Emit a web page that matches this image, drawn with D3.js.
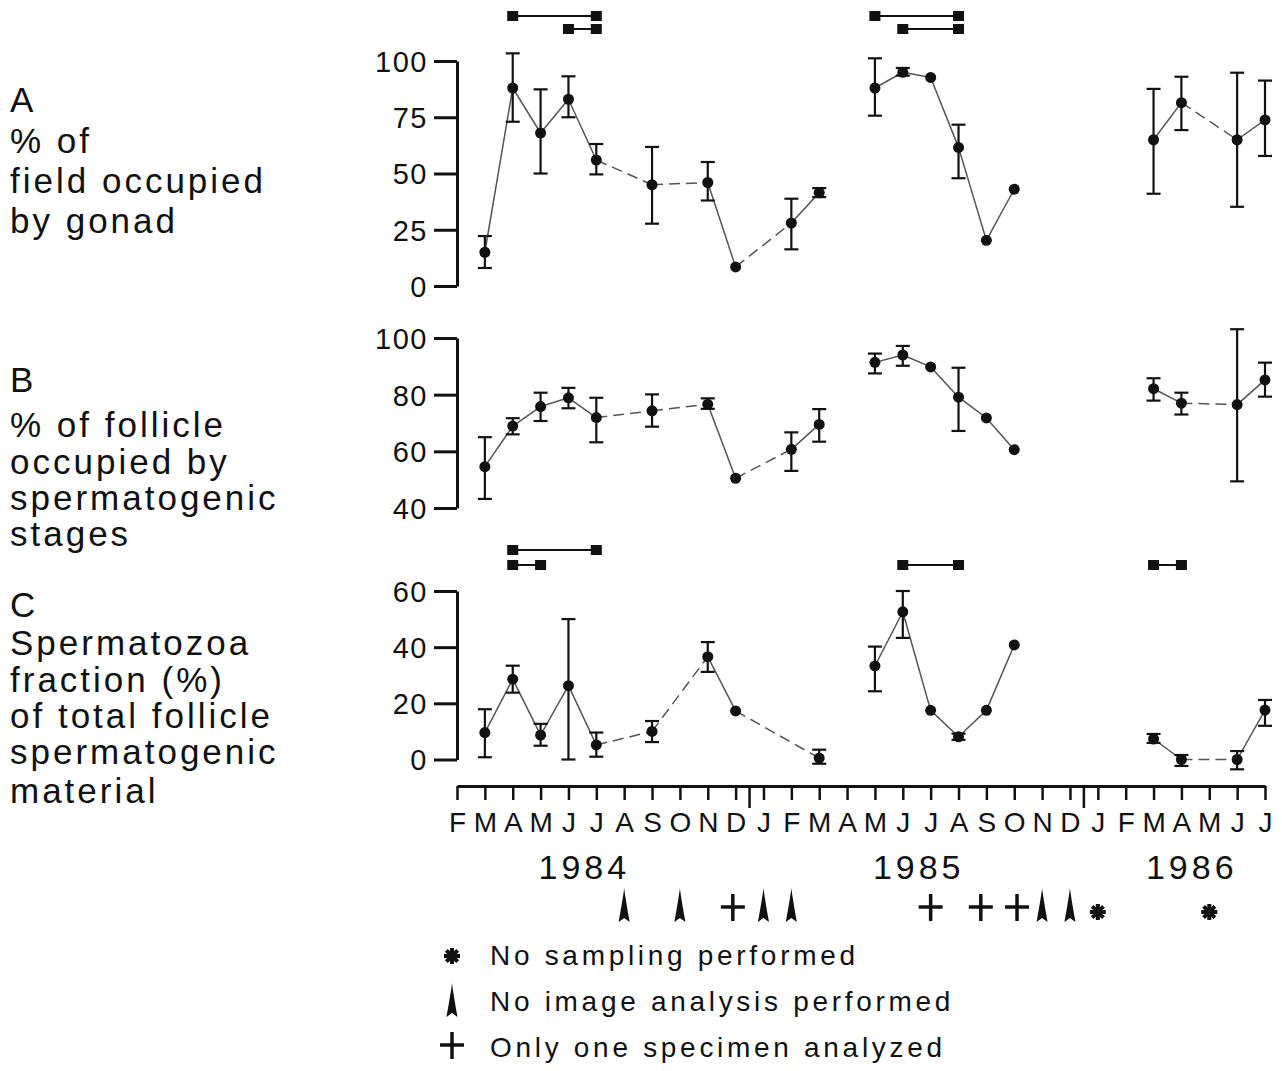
<!DOCTYPE html>
<html>
<head>
<meta charset="utf-8">
<script src="https://cdn.jsdelivr.net/npm/d3@7"></script>
<style>
  body { margin: 0; background: #fff; }
  text { font-family: "Liberation Sans", Arial, Helvetica, sans-serif; fill: #111; }
</style>
</head>
<body>
<div id="chart"></div>
<script>
// month axis, index 0 = Feb 1984
const monthLabels = ['F','M','A','M','J','J','A','S','O','N','D','J','F','M','A','M','J','J','A','S','O','N','D','J','F','M','A','M','J','J'];
const yearLabels = ['1984', '1985', '1986'];

// panel A + B share the sampled months
const abMonths = [1, 2, 3, 4, 5, 7, 9, 10, 12, 13, 15, 16, 17, 18, 19, 20, 25, 26, 28, 29];
// s = solid, d = dashed, '' = no line
const abLinks = ['s','s','s','s','d','d','s','d','s','', 's','s','s','s','s','', 's','d','s'];

const gonadMean = [15, 88, 68, 83, 56, 45, 46, 8.5, 28, 41.5, 88, 95, 92.7, 61.6, 20.3, 43, 65, 81.5, 65, 73.8];
const gonadLow  = [8, 73, 50, 75, 49.6, 27.7, 38, null, 16.3, 39.5, 75.7, 93.5, null, 47.9, null, null, 41, 69.3, 35.2, 57.8];
const gonadHigh = [22.2, 103.4, 87.4, 93.2, 63.1, 61.8, 55.1, null, 38.8, 43.5, 101.2, 96.9, null, 71.7, null, null, 87.6, 93, 94.8, 91.3];
const gonadTicks = [0, 25, 50, 75, 100];
const gonadSig = [{ from: 2, to: 5, row: 0 }, { from: 4, to: 5, row: 1 }, { from: 15, to: 18, row: 0 }, { from: 16, to: 18, row: 1 }];

const follMean = [54.6, 68.9, 75.8, 78.9, 71.9, 74.3, 76.6, 50.5, 60.7, 69.5, 91.4, 94, 89.8, 79.1, 71.8, 60.6, 82.1, 77, 76.5, 85.2];
const follLow  = [43.2, 66, 70.7, 75.2, 63.2, 68.7, 75, null, 53.1, 63.4, 87.5, 90.2, null, 67.2, null, null, 77.9, 73, 49.4, 79.3];
const follHigh = [65, 71.7, 80.7, 82.4, 78.9, 80.1, 78.7, null, 66.7, 74.9, 94.5, 97.2, null, 89.5, null, null, 85.8, 80.7, 103.1, 91.3];
const follTicks = [40, 60, 80, 100];

const spzMonths = [1, 2, 3, 4, 5, 7, 9, 10, 13, 15, 16, 17, 18, 19, 20, 25, 26, 28, 29];
const spzLinks = ['s','s','s','s','d','d','s','d','', 's','s','s','s','s','', 's','d','s'];
const spzMean = [9.6, 28.6, 8.7, 26.3, 5.2, 10, 36.6, 17.3, 0.5, 33.3, 52.6, 17.5, 8.1, 17.5, 40.8, 7.3, 0, 0, 17.6];
const spzLow  = [0.8, 23.8, 4.9, 0, 1, 6.2, 31.2, null, -1.5, 24.3, 43.3, null, 7, null, null, 5.9, -2.3, -3.5, 12];
const spzHigh = [17.9, 33.4, 12.7, 50, 9.6, 13.7, 41.8, null, 3.5, 40.2, 60, null, 9.2, null, null, 9.1, 1.6, 3, 21.2];
const spzTicks = [0, 20, 40, 60];
const spzSig = [{ from: 2, to: 5, row: 0 }, { from: 2, to: 3, row: 1 }, { from: 16, to: 18, row: 1 }, { from: 25, to: 26, row: 1 }];

// notes under the month axis
const noImageMonths = [6, 8, 11, 12, 21, 22];
const oneSpecimenMonths = [9.9, 17, 18.8, 20.1];
const noSamplingMonths = [23, 27];

const legendItems = ['No sampling performed', 'No image analysis performed', 'Only one specimen analyzed'];

const titleA = ['A', '% of', 'field occupied', 'by gonad'];
const titleB = ['B', '% of follicle', 'occupied by', 'spermatogenic', 'stages'];
const titleC = ['C', 'Spermatozoa', 'fraction (%)', 'of total follicle', 'spermatogenic', 'material'];

document.addEventListener('DOMContentLoaded', function() {
    const width = 1282, height = 1071;
    const svg = d3.select('#chart').append('svg')
        .attr('width', width)
        .attr('height', height);

    const x = d3.scaleLinear().domain([0, monthLabels.length - 1]).range([457, 1265]);
    const axisX = 457;

    const panels = [
        { months: abMonths, mean: gonadMean, lo: gonadLow, hi: gonadHigh, links: abLinks, ticks: gonadTicks,
          y: d3.scaleLinear().domain([0, 100]).range([286, 61]), sig: gonadSig, sigY: [16, 29] },
        { months: abMonths, mean: follMean, lo: follLow, hi: follHigh, links: abLinks, ticks: follTicks,
          y: d3.scaleLinear().domain([40, 100]).range([508, 338]), sig: [], sigY: [] },
        { months: spzMonths, mean: spzMean, lo: spzLow, hi: spzHigh, links: spzLinks, ticks: spzTicks,
          y: d3.scaleLinear().domain([0, 60]).range([759.5, 591]), sig: spzSig, sigY: [550, 565] }
    ];

    panels.forEach(p => {
        const y = p.y;

        // y axis, bracket style
        const ax = svg.append('g')
            .attr('transform', `translate(${axisX},0)`)
            .call(d3.axisLeft(y).tickValues(p.ticks).tickSize(23).tickSizeOuter(0).tickPadding(6))
            .attr('font-family', null).attr('font-size', null);
        ax.select('.domain').attr('stroke', '#111').attr('stroke-width', 3);
        ax.selectAll('.tick line').attr('stroke', '#111').attr('stroke-width', 3);
        ax.selectAll('.tick text')
            .style('font-size', '29px')
            .style('letter-spacing', '1.5px')
            .attr('dy', '0.36em');

        const pts = p.months.map((m, i) => ({ m: m, v: p.mean[i], lo: p.lo[i], hi: p.hi[i] }));

        // connecting lines
        const segs = [];
        for (let i = 0; i < pts.length - 1; i++) {
            if (p.links[i]) segs.push({ a: pts[i], b: pts[i + 1], style: p.links[i] });
        }
        svg.append('g')
            .selectAll('line')
            .data(segs)
            .enter().append('line')
            .attr('x1', d => x(d.a.m))
            .attr('y1', d => y(d.a.v))
            .attr('x2', d => x(d.b.m))
            .attr('y2', d => y(d.b.v))
            .attr('stroke', '#555')
            .attr('stroke-width', 1.5)
            .attr('stroke-dasharray', d => d.style === 'd' ? '11,6' : null);

        // error bars
        const eb = svg.append('g')
            .selectAll('g')
            .data(pts.filter(d => d.lo !== null))
            .enter().append('g')
            .attr('stroke', '#111')
            .attr('stroke-width', 2.2);
        eb.append('line')
            .attr('x1', d => x(d.m)).attr('x2', d => x(d.m))
            .attr('y1', d => y(d.lo)).attr('y2', d => y(d.hi));
        eb.append('line')
            .attr('x1', d => x(d.m) - 7).attr('x2', d => x(d.m) + 7)
            .attr('y1', d => y(d.lo)).attr('y2', d => y(d.lo));
        eb.append('line')
            .attr('x1', d => x(d.m) - 7).attr('x2', d => x(d.m) + 7)
            .attr('y1', d => y(d.hi)).attr('y2', d => y(d.hi));

        // means
        svg.append('g')
            .selectAll('circle')
            .data(pts)
            .enter().append('circle')
            .attr('cx', d => x(d.m))
            .attr('cy', d => y(d.v))
            .attr('r', 5.5)
            .attr('fill', '#111');

        // significance brackets
        const sg = svg.append('g')
            .selectAll('g')
            .data(p.sig)
            .enter().append('g');
        sg.append('line')
            .attr('x1', d => x(d.from)).attr('x2', d => x(d.to))
            .attr('y1', d => p.sigY[d.row]).attr('y2', d => p.sigY[d.row])
            .attr('stroke', '#111').attr('stroke-width', 2);
        sg.selectAll('rect')
            .data(d => [d.from, d.to].map(m => ({ m: m, row: d.row })))
            .enter().append('rect')
            .attr('x', d => x(d.m) - 5.5)
            .attr('y', d => p.sigY[d.row] - 5)
            .attr('width', 11)
            .attr('height', 10)
            .attr('fill', '#111');
    });

    // month axis
    const xa = svg.append('g')
        .attr('transform', 'translate(0,786)')
        .call(d3.axisBottom(x).tickValues(d3.range(monthLabels.length)).tickSize(14).tickSizeOuter(0).tickPadding(12)
            .tickFormat(i => monthLabels[i]))
        .attr('font-family', null).attr('font-size', null);
    xa.select('.domain').attr('stroke', '#111').attr('stroke-width', 3);
    xa.selectAll('.tick line').attr('stroke', '#111').attr('stroke-width', 2.5);
    xa.selectAll('.tick text').style('font-size', '28px');

    // year separators
    svg.append('g')
        .selectAll('line')
        .data([10.5, 22.5])
        .enter().append('line')
        .attr('x1', d => x(d)).attr('x2', d => x(d))
        .attr('y1', 786).attr('y2', 808)
        .attr('stroke', '#111').attr('stroke-width', 2.5);

    const yearAt = [4.5, 16.5, 26.3];
    svg.append('g')
        .selectAll('text')
        .data(yearLabels)
        .enter().append('text')
        .attr('x', (d, i) => x(yearAt[i]) + 2)
        .attr('y', 879)
        .attr('text-anchor', 'middle')
        .style('font-size', '34px')
        .style('letter-spacing', '4px')
        .text(d => d);

    // symbols
    const arrowPath = 'M0,-17 C1,-8 4,8 5.5,17 L0,13 L-5.5,17 C-4,8 -1,-8 0,-17 Z';
    function drawArrow(g, cx, cy) {
        g.append('path').attr('d', arrowPath).attr('transform', `translate(${cx},${cy})`).attr('fill', '#111');
    }
    function drawPlus(g, cx, cy) {
        g.append('line').attr('x1', cx - 12).attr('x2', cx + 12).attr('y1', cy).attr('y2', cy)
            .attr('stroke', '#111').attr('stroke-width', 3.5);
        g.append('line').attr('x1', cx).attr('x2', cx).attr('y1', cy - 13).attr('y2', cy + 14)
            .attr('stroke', '#111').attr('stroke-width', 3.5);
    }
    function drawStar(g, cx, cy) {
        g.append('circle').attr('cx', cx).attr('cy', cy).attr('r', 3.5).attr('fill', '#111');
        [0, 45, 90, 135].forEach(a => {
            const r = 8, t = a * Math.PI / 180;
            g.append('line')
                .attr('x1', cx - r * Math.cos(t)).attr('y1', cy - r * Math.sin(t))
                .attr('x2', cx + r * Math.cos(t)).attr('y2', cy + r * Math.sin(t))
                .attr('stroke', '#111').attr('stroke-width', 4);
        });
    }

    const marks = svg.append('g');
    noImageMonths.forEach(m => drawArrow(marks, x(m), 905));
    oneSpecimenMonths.forEach(m => drawPlus(marks, x(m), 907));
    noSamplingMonths.forEach(m => drawStar(marks, x(m), 912));

    // legend
    const lg = svg.append('g');
    drawStar(lg, 452, 956);
    drawArrow(lg, 452, 1000);
    drawPlus(lg, 452, 1045);
    lg.selectAll('text')
        .data(legendItems)
        .enter().append('text')
        .attr('x', 490)
        .attr('y', (d, i) => 965 + i * 46)
        .style('font-size', '28px')
        .style('letter-spacing', '3.7px')
        .text(d => d);

    // panel titles on the left
    const titles = [
        { lines: titleA, base: [112, 153, 193, 233] },
        { lines: titleB, base: [392, 437, 474, 510, 546] },
        { lines: titleC, base: [617, 655, 692, 728, 764, 803] }
    ];
    titles.forEach(t => {
        svg.append('g')
            .selectAll('text')
            .data(t.lines)
            .enter().append('text')
            .attr('x', 10)
            .attr('y', (d, i) => t.base[i])
            .style('font-size', '35px')
            .style('letter-spacing', '3px')
            .text(d => d);
    });
});
</script>
</body>
</html>
